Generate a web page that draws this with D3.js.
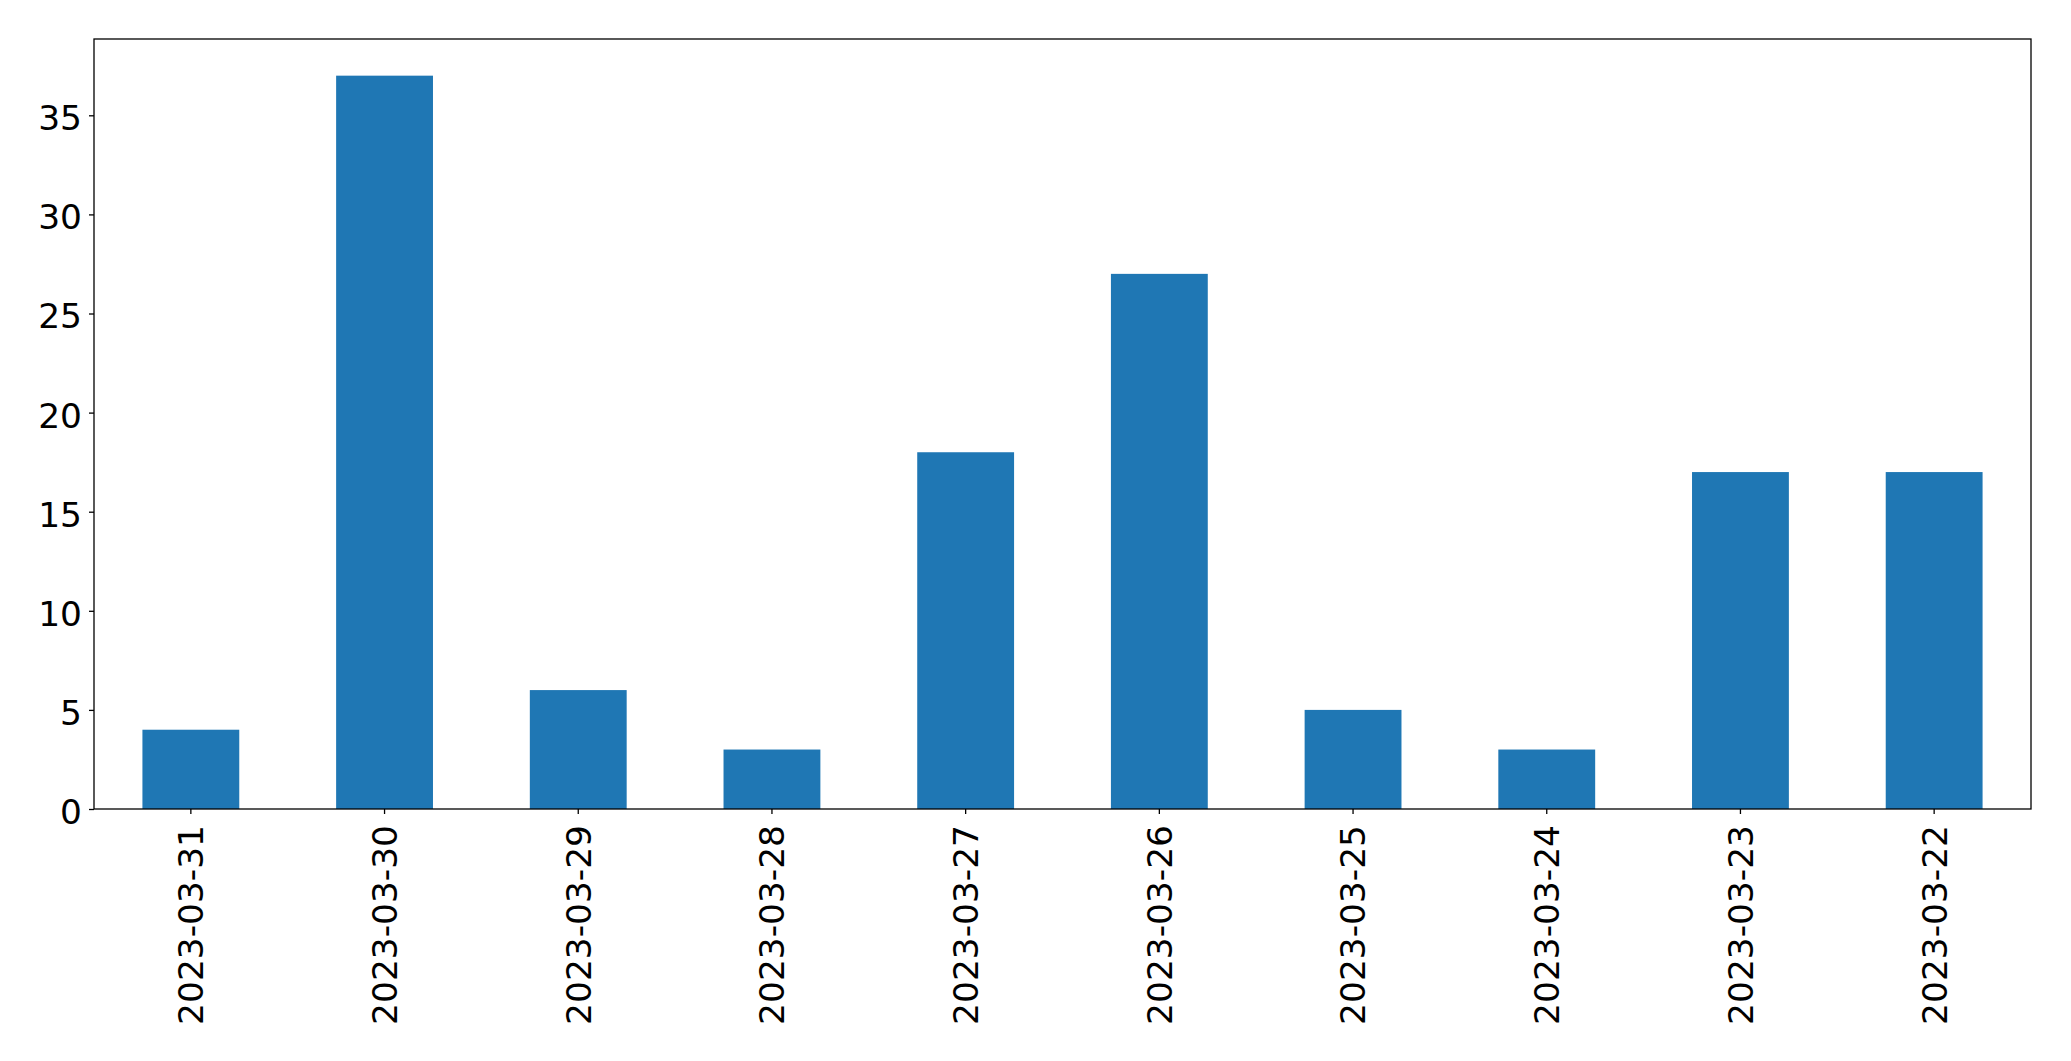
<!DOCTYPE html>
<html>
<head>
<meta charset="utf-8">
<script src="https://cdn.jsdelivr.net/npm/d3@7"></script>
<style>
html,body{margin:0;padding:0;background:#fff;}
svg{display:block;}
</style>
</head>
<body>
<svg id="chart" width="2071" height="1061"></svg>
<script>
const categories = ["2023-03-31","2023-03-30","2023-03-29","2023-03-28","2023-03-27","2023-03-26","2023-03-25","2023-03-24","2023-03-23","2023-03-22"];
const values = [4, 37, 6, 3, 18, 27, 5, 3, 17, 17];
const yTicks = [0, 5, 10, 15, 20, 25, 30, 35];

const W = 2071, H = 1061;
const m = {left: 94, right: 2031, top: 39, bottom: 809};
const svg = d3.select("#chart");
const fontFamily = "'DejaVu Sans', sans-serif";
const fontSize = 34.4;

const x = d3.scaleBand().domain(categories).range([m.left, m.right]).paddingInner(0.5).paddingOuter(0.25);
const yMax = d3.max(values) * 1.05;
const y = d3.scaleLinear().domain([0, yMax]).range([m.bottom, m.top]);

svg.append("g").selectAll("rect").data(values).join("rect")
  .attr("x", (d, i) => x(categories[i]))
  .attr("y", d => y(d))
  .attr("width", x.bandwidth())
  .attr("height", d => y(0) - y(d))
  .attr("fill", "#1f77b4");

// frame
svg.append("rect")
  .attr("x", m.left).attr("y", m.top)
  .attr("width", m.right - m.left).attr("height", m.bottom - m.top)
  .attr("fill", "none").attr("stroke", "#000").attr("stroke-width", 1.3);

// y axis
const yAxis = svg.append("g").attr("transform", `translate(${m.left},0)`)
  .call(d3.axisLeft(y).tickValues(yTicks).tickSize(5).tickPadding(7).tickFormat(d3.format("d")));
yAxis.select(".domain").remove();
yAxis.selectAll(".tick line").attr("stroke", "#000").attr("stroke-width", 1.3);
yAxis.selectAll(".tick text")
  .attr("font-family", fontFamily).attr("font-size", fontSize).attr("fill", "#000")
  .attr("dy", "0.42em");

// x axis
const xAxis = svg.append("g").attr("transform", `translate(0,${m.bottom})`)
  .call(d3.axisBottom(x).tickSize(5).tickPadding(0));
xAxis.select(".domain").remove();
xAxis.selectAll(".tick line").attr("stroke", "#000").attr("stroke-width", 1.3);
xAxis.selectAll(".tick text")
  .attr("font-family", fontFamily).attr("font-size", fontSize).attr("fill", "#000")
  .attr("text-anchor", "end")
  .attr("y", 0)
  .attr("dy", "0.36em")
  .attr("transform", "translate(0,16) rotate(-90)");
</script>
</body>
</html>
